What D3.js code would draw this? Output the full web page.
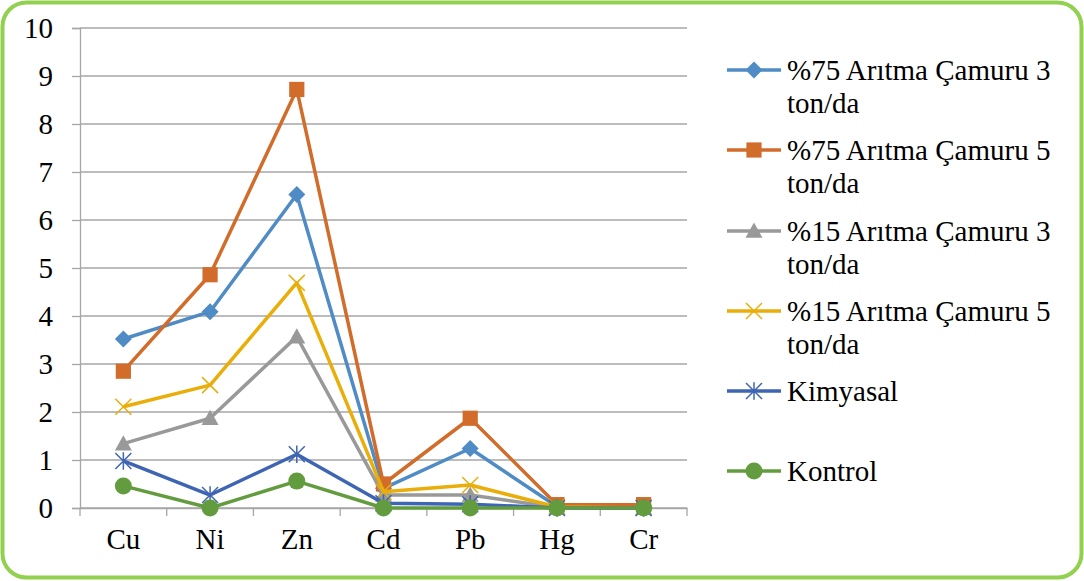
<!DOCTYPE html>
<html><head><meta charset="utf-8">
<script src="https://cdn.jsdelivr.net/npm/d3@7"></script>
</head><body style="margin:0">
<svg id="c" width="1084" height="581" font-family="Liberation Serif" style="display:block;font-family:'Liberation Serif'"></svg>
<script>
const categories = ["Cu","Ni","Zn","Cd","Pb","Hg","Cr"];
const yTicks = [0,1,2,3,4,5,6,7,8,9,10];
const seriesNames = ["%75 Arıtma Çamuru 3 ton/da","%75 Arıtma Çamuru 5 ton/da","%15 Arıtma Çamuru 3 ton/da","%15 Arıtma Çamuru 5 ton/da","Kimyasal","Kontrol"];
const s75_3 = [3.52, 4.09, 6.53, 0.41, 1.24, 0.03, 0.02];
const s75_5 = [2.85, 4.86, 8.72, 0.50, 1.87, 0.07, 0.07];
const s15_3 = [1.34, 1.87, 3.57, 0.27, 0.27, 0.01, 0.0];
const s15_5 = [2.11, 2.56, 4.69, 0.34, 0.48, 0.02, 0.0];
const kimyasal = [0.98, 0.27, 1.12, 0.10, 0.08, 0.0, 0.0];
const kontrol = [0.46, 0.0, 0.56, 0.0, 0.0, 0.0, 0.0];
const seriesValues = [s75_3, s75_5, s15_3, s15_5, kimyasal, kontrol];
const colors = ["#4f8bc4","#d26c2b","#999999","#e9ae0a","#3e65b3","#629c3e"];
const markers = ["diamond","square","triangle","x","star","circle"];
const FONT = '"Liberation Serif"';

const svg = d3.select("#c");
svg.append("rect").attr("x",2.5).attr("y",2.5).attr("width",1079).attr("height",575)
  .attr("rx",24).attr("fill","#fff").attr("stroke","#92d050").attr("stroke-width",4);

const L=80,R=687,T=28,B=508;
const x = d3.scaleBand().domain(categories).range([L,R]);
const y = d3.scaleLinear().domain([0,10]).range([B,T]);

svg.append("g").selectAll("line").data(yTicks).join("line")
  .attr("x1",L).attr("x2",R).attr("y1",d=>y(d)).attr("y2",d=>y(d))
  .attr("stroke","#a6a6a6").attr("stroke-width",1.3);

function styleText(sel, size){
  sel.attr("font-size",size).attr("fill","#000").attr("font-family","Liberation Serif").style("font-family",FONT);
}

const ya = svg.append("g").attr("transform",`translate(${L},0)`)
  .call(d3.axisLeft(y).tickValues(yTicks).tickSize(8).tickPadding(19).tickFormat(d3.format("d")));
ya.attr("font-family","Liberation Serif");
ya.select(".domain").attr("stroke","#a6a6a6").attr("stroke-width",1.3);
ya.selectAll(".tick line").attr("stroke","#a6a6a6").attr("stroke-width",1.3);
styleText(ya.selectAll("text"),29);

const xa = svg.append("g").attr("transform",`translate(0,${B})`)
  .call(d3.axisBottom(x).tickSize(0).tickPadding(20));
xa.attr("font-family","Liberation Serif");
xa.select(".domain").attr("stroke","#a6a6a6").attr("stroke-width",1.3);
styleText(xa.selectAll("text"),29);
const bounds = categories.map(c=>x(c)).concat([x(categories[categories.length-1])+x.bandwidth()]);
svg.append("g").selectAll("line").data(bounds).join("line")
  .attr("x1",d=>d).attr("x2",d=>d).attr("y1",B).attr("y2",B+8)
  .attr("stroke","#a6a6a6").attr("stroke-width",1.3);

const cx = c => x(c)+x.bandwidth()/2;

function drawMarker(g, type, px, py, color, s){
  if(type==="diamond"){
    g.append("path").attr("d",`M${px},${py-s}L${px+s},${py}L${px},${py+s}L${px-s},${py}Z`).attr("fill",color);
  } else if(type==="square"){
    g.append("rect").attr("x",px-s*0.95).attr("y",py-s*0.95).attr("width",s*1.9).attr("height",s*1.9).attr("fill",color);
  } else if(type==="triangle"){
    g.append("path").attr("d",`M${px},${py-s}L${px+s},${py+s*0.8}L${px-s},${py+s*0.8}Z`).attr("fill",color);
  } else if(type==="x"){
    g.append("path").attr("d",`M${px-s},${py-s}L${px+s},${py+s}M${px-s},${py+s}L${px+s},${py-s}`).attr("stroke",color).attr("stroke-width",1.5);
  } else if(type==="star"){
    g.append("path").attr("d",`M${px-s},${py-s}L${px+s},${py+s}M${px-s},${py+s}L${px+s},${py-s}M${px},${py-s*1.1}L${px},${py+s*1.1}`).attr("stroke",color).attr("stroke-width",1.5);
  } else {
    g.append("circle").attr("cx",px).attr("cy",py).attr("r",s).attr("fill",color);
  }
}
const msize = [8.5,8,8.5,8,8,8.5];
const line = d3.line().x((d,i)=>cx(categories[i])).y(d=>y(d));
seriesValues.forEach((vals,si)=>{
  const g = svg.append("g");
  g.append("path").attr("d",line(vals)).attr("fill","none").attr("stroke",colors[si])
    .attr("stroke-width",3.5).attr("stroke-linejoin","round");
  vals.forEach((v,i)=>drawMarker(g, markers[si], cx(categories[i]), y(v), colors[si], msize[si]));
});

const legY = [70,150,231,311,391,471];
seriesNames.forEach((name,si)=>{
  const g = svg.append("g");
  const ly = legY[si];
  g.append("line").attr("x1",727).attr("x2",781).attr("y1",ly).attr("y2",ly).attr("stroke",colors[si]).attr("stroke-width",3.5);
  drawMarker(g, markers[si], 754, ly, colors[si], msize[si]);
  const t = g.append("text").attr("x",787).attr("y",ly+10);
  styleText(t,29);
  const idx = name.indexOf(" ton/da");
  if(idx>=0){
    t.append("tspan").attr("x",787).text(name.slice(0,idx));
    t.append("tspan").attr("x",787).attr("dy",33).text(name.slice(idx+1));
  } else t.text(name);
});
</script></body></html>
